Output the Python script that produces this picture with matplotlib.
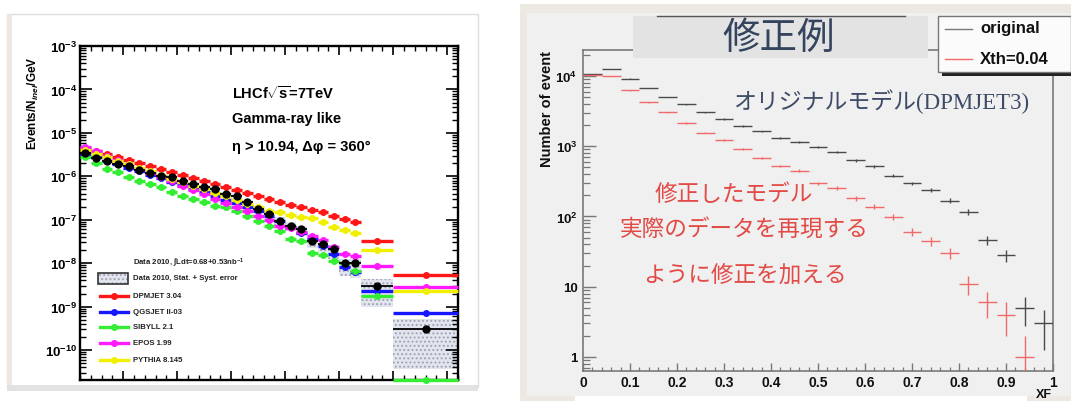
import numpy as np
import matplotlib
matplotlib.use('Agg')
import matplotlib.pyplot as plt
from matplotlib.patches import Rectangle
from matplotlib.lines import Line2D
from matplotlib.ticker import FixedLocator, MultipleLocator, LogLocator, NullFormatter

plt.rcParams['font.family'] = ['Liberation Sans', 'DejaVu Sans']
plt.rcParams['mathtext.fontset'] = 'custom'
plt.rcParams['mathtext.rm'] = 'Liberation Sans:bold'
plt.rcParams['mathtext.bf'] = 'Liberation Sans:bold'
plt.rcParams['mathtext.it'] = 'Liberation Sans:italic:bold'
plt.rcParams['mathtext.sf'] = 'Liberation Sans:bold'
plt.rcParams['hatch.linewidth'] = 0.9

# ---------------- left panel data (LHCf gamma spectrum) ----------------
energy_edges = [100, 200, 300, 400, 500, 600, 700, 800, 900, 1000, 1100, 1200, 1300, 1400,
                1500, 1600, 1700, 1800, 1900, 2000, 2100, 2200, 2300, 2400, 2500, 2600, 2700,
                3000, 3600]
data_2010 = [3.38e-6, 2.64e-6, 2.29e-6, 1.92e-6, 1.70e-6, 1.42e-6, 1.19e-6, 1.03e-6, 9.5e-7,
             7.9e-7, 6.6e-7, 5.6e-7, 5.1e-7, 3.9e-7, 3.6e-7, 2.5e-7, 1.77e-7, 1.36e-7, 9.5e-8,
             7.3e-8, 6.1e-8, 3.3e-8, 2.76e-8, 2.12e-8, 9.9e-9, 9.9e-9, 2.93e-9, 3.05e-10]
sys_lo = [0.08, 0.08, 0.08, 0.08, 0.09, 0.09, 0.10, 0.10, 0.10, 0.11, 0.12, 0.12, 0.13, 0.14,
          0.15, 0.16, 0.18, 0.20, 0.22, 0.25, 0.28, 0.32, 0.36, 0.42, 0.50, 0.55, 0.67, 0.88]
sys_hi = [0.08, 0.08, 0.08, 0.08, 0.09, 0.09, 0.10, 0.10, 0.10, 0.11, 0.12, 0.12, 0.13, 0.14,
          0.15, 0.16, 0.17, 0.18, 0.19, 0.20, 0.20, 0.21, 0.22, 0.22, 0.24, 0.24, 0.45, 0.70]
dpmjet = [4.48e-6, 3.82e-6, 3.26e-6, 2.78e-6, 2.37e-6, 2.02e-6, 1.73e-6, 1.47e-6, 1.26e-6,
          1.07e-6, 9.1e-7, 7.8e-7, 6.6e-7, 5.7e-7, 4.8e-7, 4.1e-7, 3.5e-7, 3.0e-7, 2.52e-7,
          2.18e-7, 1.93e-7, 1.70e-7, 1.48e-7, 1.24e-7, 1.04e-7, 8.7e-8, 3.3e-8, 5.3e-9]
qgsjet = [3.26e-6, 2.71e-6, 2.25e-6, 1.87e-6, 1.55e-6, 1.29e-6, 1.07e-6, 8.9e-7, 7.4e-7,
          6.14e-7, 5.1e-7, 4.24e-7, 3.52e-7, 2.92e-7, 2.43e-7, 1.96e-7, 1.59e-7, 1.22e-7,
          9.35e-8, 6.8e-8, 4.94e-8, 3.6e-8, 2.48e-8, 1.62e-8, 8.15e-9, 6.25e-9, 2.32e-9, 7.1e-10]
sibyll = [2.78e-6, 2.02e-6, 1.47e-6, 1.24e-6, 9.8e-7, 7.9e-7, 6.6e-7, 5.6e-7, 4.28e-7, 3.57e-7,
          3.0e-7, 2.52e-7, 2.1e-7, 1.93e-7, 1.61e-7, 1.24e-7, 9.2e-8, 7.3e-8, 5.5e-8, 3.6e-8,
          3.24e-8, 1.71e-8, 1.54e-8, 1.12e-8, 1.0e-8, 6.6e-9, 1.73e-9, 0.0]
epos = [4.72e-6, 3.76e-6, 2.99e-6, 2.38e-6, 1.90e-6, 1.51e-6, 1.20e-6, 9.6e-7, 7.6e-7, 6.07e-7,
        4.83e-7, 3.85e-7, 3.06e-7, 2.44e-7, 1.94e-7, 1.55e-7, 1.23e-7, 9.8e-8, 7.2e-8, 6.45e-8,
        5.2e-8, 4.2e-8, 3.4e-8, 2.35e-8, 1.62e-8, 1.46e-8, 8.5e-9, 2.78e-9]
pythia = [4.03e-6, 3.33e-6, 2.77e-6, 2.29e-6, 1.89e-6, 1.56e-6, 1.30e-6, 1.07e-6, 8.85e-7,
          7.35e-7, 6.07e-7, 5.0e-7, 4.17e-7, 3.44e-7, 2.84e-7, 2.35e-7, 1.95e-7, 1.61e-7, 1.48e-7,
          1.28e-7, 1.17e-7, 1.08e-7, 8.7e-8, 6.7e-8, 5.8e-8, 4.87e-8, 2.04e-8, 2.32e-9]
model_names = ['DPMJET 3.04', 'QGSJET II-03', 'SIBYLL 2.1', 'EPOS 1.99', 'PYTHIA 8.145']
model_colors = ['#ff1616', '#1616ff', '#33ee33', '#ff1aff', '#f0f000']
data_label = r'Data 2010, $\int$Ldt=0.68+0.53nb$^{-1}$'
box_label = 'Data 2010, Stat. + Syst. error'
left_yticks = [1e-3, 1e-4, 1e-5, 1e-6, 1e-7, 1e-8, 1e-9, 1e-10]
left_yticklabels = [r'$10^{-3}$', r'$10^{-4}$', r'$10^{-5}$', r'$10^{-6}$', r'$10^{-7}$',
                    r'$10^{-8}$', r'$10^{-9}$', r'$10^{-10}$']

# ---------------- right panel data (xF distribution) ----------------
xf_edges = [0.00, 0.04, 0.08, 0.12, 0.16, 0.20, 0.24, 0.28, 0.32, 0.36, 0.40, 0.44, 0.48,
            0.52, 0.56, 0.60, 0.64, 0.68, 0.72, 0.76, 0.80, 0.84, 0.88, 0.92, 0.96, 1.00]
original = [10700, 12500, 9150, 6750, 5030, 3960, 3050, 2450, 1940, 1630, 1310, 1140, 975,
            830, 630, 520, 382, 297, 241, 168, 116, 46, 28, 5, 3]
xth_004 = [10300, 10000, 6260, 4230, 3040, 2140, 1560, 1220, 915, 686, 523, 447, 297, 254,
           182, 138, 98, 60, 45, 30, 11, 6, 4, 1, 0]
right_xticks = [0, 0.1, 0.2, 0.3, 0.4, 0.5, 0.6, 0.7, 0.8, 0.9, 1.0]
right_xticklabels = ['0', '0.1', '0.2', '0.3', '0.4', '0.5', '0.6', '0.7', '0.8', '0.9', '1']
right_yticks = [1, 10, 100, 1000, 10000]
right_yticklabels = ['1', '10', r'$10^{2}$', r'$10^{3}$', r'$10^{4}$']
legend_right = ['original', 'Xth=0.04']

# ---------------- figure helpers ----------------
W, H = 1071, 402
fig = plt.figure(figsize=(W / 100, H / 100), dpi=100)
fig.patch.set_facecolor('white')


def ax_rect(x0, y0, x1, y1):
    return [x0 / W, 1 - y1 / H, (x1 - x0) / W, (y1 - y0) / H]


def frect(x0, y0, x1, y1, **kw):
    r = Rectangle((x0 / W, 1 - y1 / H), (x1 - x0) / W, (y1 - y0) / H,
                  transform=fig.transFigure, **kw)
    fig.add_artist(r)
    return r


def fline(xs, ys, **kw):
    fig.add_artist(Line2D([x / W for x in xs], [1 - y / H for y in ys],
                          transform=fig.transFigure, **kw))


def ftext(x, y, s, **kw):
    return fig.text(x / W, 1 - y / H, s, **kw)


# backgrounds
frect(7, 15, 478, 388, facecolor='white', edgecolor='#dddddd', lw=1, zorder=-5)
frect(7, 15, 12, 388, facecolor='#ece8e0', edgecolor='none', zorder=-4)
frect(7, 386, 478, 392, facecolor='#e2e2e2', edgecolor='none', zorder=-4)
frect(520, 5, 1071, 402, facecolor='#ece9e3', edgecolor='none', zorder=-5)
frect(527, 14, 1071, 397, facecolor='#f0f0f0', edgecolor='none', zorder=-4)
frect(575, 397, 1027, 402, facecolor='white', edgecolor='none', zorder=-4)

# ================= LEFT PANEL =================
axL = fig.add_axes(ax_rect(80, 47, 458, 381), zorder=2)
axL.set_facecolor('white')
axL.set_yscale('log')
yminL = 10 ** -10.69
axL.set_xlim(100, 3600)
axL.set_ylim(yminL, 1e-3)

e_edges = np.asarray(energy_edges, float)
e_cent = 0.5 * (e_edges[:-1] + e_edges[1:])
e_half = 0.5 * (e_edges[1:] - e_edges[:-1])
d = np.asarray(data_2010)
lo = d * (1 - np.asarray(sys_lo))
hi = d * (1 + np.asarray(sys_hi))
axL.bar(e_cent, hi - lo, bottom=lo, width=2 * e_half, facecolor='#e3e5ee',
        edgecolor='#9ea2b4', hatch='....', linewidth=0, zorder=1)

for vals, col in zip([dpmjet, qgsjet, sibyll, epos, pythia], model_colors):
    v = np.asarray(vals, float)
    v = np.where(v > 0, v, yminL)
    cont = axL.errorbar(e_cent, v, xerr=e_half, fmt='o', color=col, ms=4.0,
                        elinewidth=2.4, capsize=0, zorder=3)
    for art in cont.get_children():
        art.set_clip_on(False)

axL.errorbar(e_cent, d, xerr=e_half, fmt='o', color='black', ms=5.0,
             elinewidth=1.3, capsize=0, zorder=4)

axL.xaxis.set_major_locator(MultipleLocator(500))
axL.xaxis.set_minor_locator(MultipleLocator(100))
axL.yaxis.set_major_locator(FixedLocator(left_yticks))
axL.yaxis.set_minor_locator(LogLocator(base=10, subs=np.arange(2, 10), numticks=30))
axL.yaxis.set_minor_formatter(NullFormatter())
axL.set_yticklabels(left_yticklabels, fontsize=9.5)
axL.tick_params(which='both', direction='in', top=True, right=True, bottom=True,
                left=True, labelbottom=False, color='black')
axL.xaxis.set_tick_params(which='major', length=6.5, width=1.2)
axL.xaxis.set_tick_params(which='minor', length=3.5, width=1.0)
axL.yaxis.set_tick_params(which='major', length=8.5, width=1.2, pad=2)
axL.yaxis.set_tick_params(which='minor', length=4.2, width=1.0)
for s in axL.spines.values():
    s.set_linewidth(1.7)

ftext(33, 103, r'Events/N$_{inel}$/GeV', rotation=90, ha='center', va='center',
      fontsize=8.5, fontweight='bold')
ftext(232, 93, r'LHCf$\sqrt{\mathrm{s}}$=7TeV', ha='left', va='center', fontsize=10.5,
      fontweight='bold')
ftext(232, 119, 'Gamma-ray like', ha='left', va='center', fontsize=10.5, fontweight='bold')
ftext(232, 147, 'η > 10.94, Δφ = 360°', ha='left', va='center', fontsize=10.5,
      fontweight='bold')

# left legend
fig.add_artist(Line2D([113 / W], [1 - 263 / H], transform=fig.transFigure, marker='o',
                      color='black', ms=5.0, lw=0))
ftext(133, 263, data_label, ha='left', va='center', fontsize=5.6, fontweight='bold',
      color='#222222')
frect(98, 274, 128, 285, facecolor='#e3e5ee', edgecolor='#9ea2b4', hatch='....', lw=0,
      zorder=5)
frect(98, 274, 128, 285, facecolor='none', edgecolor='#333333', lw=1.2, zorder=6)
ftext(133, 279, box_label, ha='left', va='center', fontsize=5.6, fontweight='bold',
      color='#222222')
for k, (name, col) in enumerate(zip(model_names, model_colors)):
    yy = [297, 313, 328, 344, 361][k]
    fline([100, 128], [yy, yy], color=col, lw=2.4, zorder=5)
    fig.add_artist(Line2D([114 / W], [1 - yy / H], transform=fig.transFigure, marker='o',
                          color=col, ms=4.0, lw=0, zorder=6))
    ftext(133, yy, name, ha='left', va='center', fontsize=5.6, fontweight='bold',
          color='#222222')

# ================= RIGHT PANEL =================
axR = fig.add_axes(ax_rect(583, 51, 1053, 372), zorder=2)
axR.set_facecolor('#f0f0f0')
axR.set_yscale('log')
axR.set_xlim(0, 1)
axR.set_ylim(10 ** -0.2, 10 ** 4.37)

xe = np.asarray(xf_edges)
xc = 0.5 * (xe[:-1] + xe[1:])
xh = 0.5 * (xe[1:] - xe[:-1])
for vals, col in [(original, '#4a4a4a'), (xth_004, '#f06a6a')]:
    v = np.asarray(vals, float)
    m = v > 0
    err = np.sqrt(v[m])
    lower = np.minimum(err, v[m] * 0.9999)
    axR.errorbar(xc[m], v[m], xerr=xh[m], yerr=[lower, err], fmt='none', ecolor=col,
                 elinewidth=1.0, capsize=0, zorder=3)

axR.xaxis.set_major_locator(FixedLocator(right_xticks))
axR.set_xticklabels(right_xticklabels, fontsize=10, fontweight='bold')
axR.xaxis.set_minor_locator(MultipleLocator(0.02))
axR.yaxis.set_major_locator(FixedLocator(right_yticks))
axR.set_yticklabels(right_yticklabels, fontsize=9.5, fontweight='bold')
axR.yaxis.set_minor_locator(LogLocator(base=10, subs=np.arange(2, 10), numticks=30))
axR.yaxis.set_minor_formatter(NullFormatter())
axR.tick_params(which='both', direction='in', top=False, right=False, color='#777777',
                labelcolor='#111111')
axR.xaxis.set_tick_params(which='major', length=6, width=1.0, pad=3)
axR.xaxis.set_tick_params(which='minor', length=3, width=0.9)
axR.yaxis.set_tick_params(which='major', length=9, width=1.0, pad=4)
axR.yaxis.set_tick_params(which='minor', length=5, width=0.9)
for s in axR.spines.values():
    s.set_color('#7a7a7a')
    s.set_linewidth(1.2)

ftext(547, 109, 'Number of event', rotation=90, ha='center', va='center', fontsize=10.5,
      fontweight='bold', color='#111111')
ftext(1044, 401, 'XF', ha='center', va='bottom', fontsize=9, fontweight='bold',
      color='#111111')

# title box
frect(633, 17, 928, 59, facecolor='#e3e3e3', edgecolor='none', zorder=5)
fline([657, 905], [17, 17], color='#555555', lw=1.0, zorder=6)
ftext(779, 38, '修正例', ha='center', va='center', fontsize=27, color='#34445e',
      family=['Noto Sans CJK JP'], zorder=7)

# legend box
frect(942, 21, 1075, 77, facecolor='#222222', edgecolor='none', zorder=5)
frect(938, 17, 1071, 73, facecolor='#fbfbfb', edgecolor='#777777', lw=1.0, zorder=6)
fline([945, 972], [30, 30], color='#777777', lw=1.0, zorder=7)
fline([945, 972], [60, 60], color='#f06a6a', lw=1.0, zorder=7)
ftext(980, 29, legend_right[0], ha='left', va='center', fontsize=12, fontweight='bold',
      color='#111111', zorder=7)
ftext(980, 60, legend_right[1], ha='left', va='center', fontsize=12, fontweight='bold',
      color='#111111', zorder=7)

# annotations
ftext(733, 102, 'オリジナルモデル(DPMJET3)', ha='left', va='center', fontsize=16.5,
      color='#3d4b66', family=['Liberation Serif', 'Noto Sans CJK JP'], zorder=7)
red_txt = '#e24a46'
ftext(734, 195, '修正したモデル', ha='center', va='center', fontsize=16.3, color=red_txt,
      family=['Noto Sans CJK JP'], zorder=7)
ftext(744, 230, '実際のデータを再現する', ha='center', va='center', fontsize=16.3,
      color=red_txt, family=['Noto Sans CJK JP'], zorder=7)
ftext(745, 275, 'ように修正を加える', ha='center', va='center', fontsize=16.3, color=red_txt,
      family=['Noto Sans CJK JP'], zorder=7)

fig.savefig('out.png', dpi=100)
